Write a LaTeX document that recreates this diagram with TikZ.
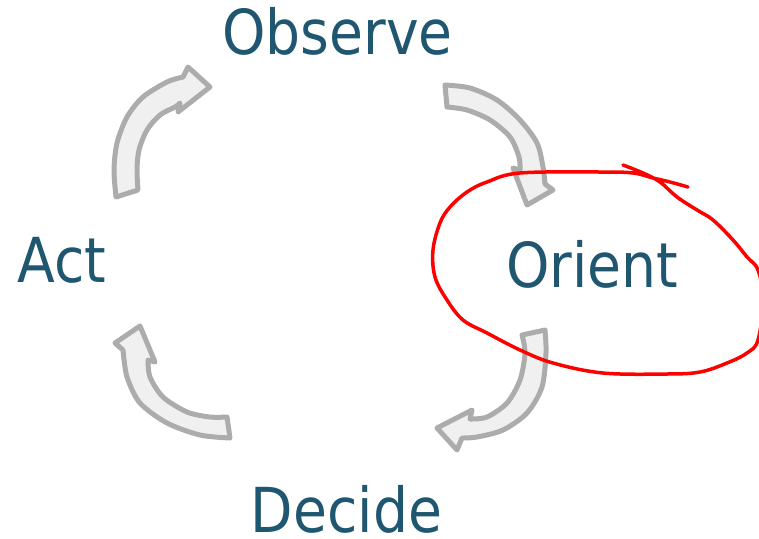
\documentclass[tikz,border=0pt]{standalone}
\usepackage{fontspec}
\setmainfont{DejaVu Sans}[FakeStretch=0.89]
\definecolor{labelblue}{RGB}{31,86,112}
\definecolor{arrowfill}{RGB}{240,240,240}
\definecolor{arrowline}{RGB}{172,172,172}
\tikzset{
  lbl/.style={anchor=base, inner sep=0pt, text depth=0pt, text=labelblue, font=\fontsize{62}{70}\selectfont},
  blockarrow/.style={fill=arrowfill, draw=arrowline, line width=5pt, line join=round},
  scribble/.style={draw=red, line width=3.5pt, line cap=round, line join=round}
}
\begin{document}
\begin{tikzpicture}[x=1pt,y=-1pt]
\useasboundingbox (0,0) rectangle (759,538);
% labels
\node[lbl] (observe) at (337.5,54) {Observe};
\node[lbl] (act) at (62,282) {Act};
\node[lbl] (orient) at (592,287) {Orient};
\node[lbl] (decide) at (346.5,532) {Decide};
% arrow Act -> Observe
\path[blockarrow] plot[smooth] coordinates {(116,197) (114,170) (117,143) (127,117) (143,97) (167,82) (183,77)}
  -- (188,67) -- (210,87) -- (178,112)
  -- plot[smooth] coordinates {(180,103) (175,107) (160,115) (147,130) (139,150) (137,170) (138,190)} -- cycle;
% arrow Observe -> Orient
\path[blockarrow] plot[smooth] coordinates {(445,85) (470,88) (497,100) (520,120) (537,143) (543,167) (545,184)}
  -- (553,190) -- (527,205) -- (513,168)
  -- plot[smooth] coordinates {(520,170) (519,157) (510,137) (490,120) (467,110) (447,107)} -- cycle;
% arrow Orient -> Decide
\path[blockarrow] plot[smooth] coordinates {(545,330) (546,353) (542,387) (527,413) (503,430) (477,437) (462,438)}
  -- (457,450) -- (437,428) -- (472,410)
  -- plot[smooth] coordinates {(470,419) (487,417) (507,403) (520,380) (525,353) (522,335)} -- cycle;
% arrow Decide -> Act
\path[blockarrow] plot[smooth] coordinates {(230,438) (200,435) (167,423) (140,403) (127,377) (123,350)}
  -- (115,343) -- (140,326) -- (155,362)
  -- plot[smooth] coordinates {(148,360) (150,377) (163,397) (187,412) (210,417) (227,417)} -- cycle;
% red hand-drawn loop around Orient
\draw[scribble] plot[smooth, tension=0.6] coordinates {(623,165) (643,173) (660,182) (677,197) (697,210) (713,220) (733,240) (747,257) (758,270) (763,300) (758,340) (747,353) (727,363) (700,372) (667,374) (603,373) (553,363) (520,350) (487,333) (463,320) (447,300) (435,277) (433,250) (440,223) (450,207) (467,192) (487,182) (520,173) (600,172) (633,173) (653,178) (670,182) (688,187)};
\end{tikzpicture}
\end{document}
